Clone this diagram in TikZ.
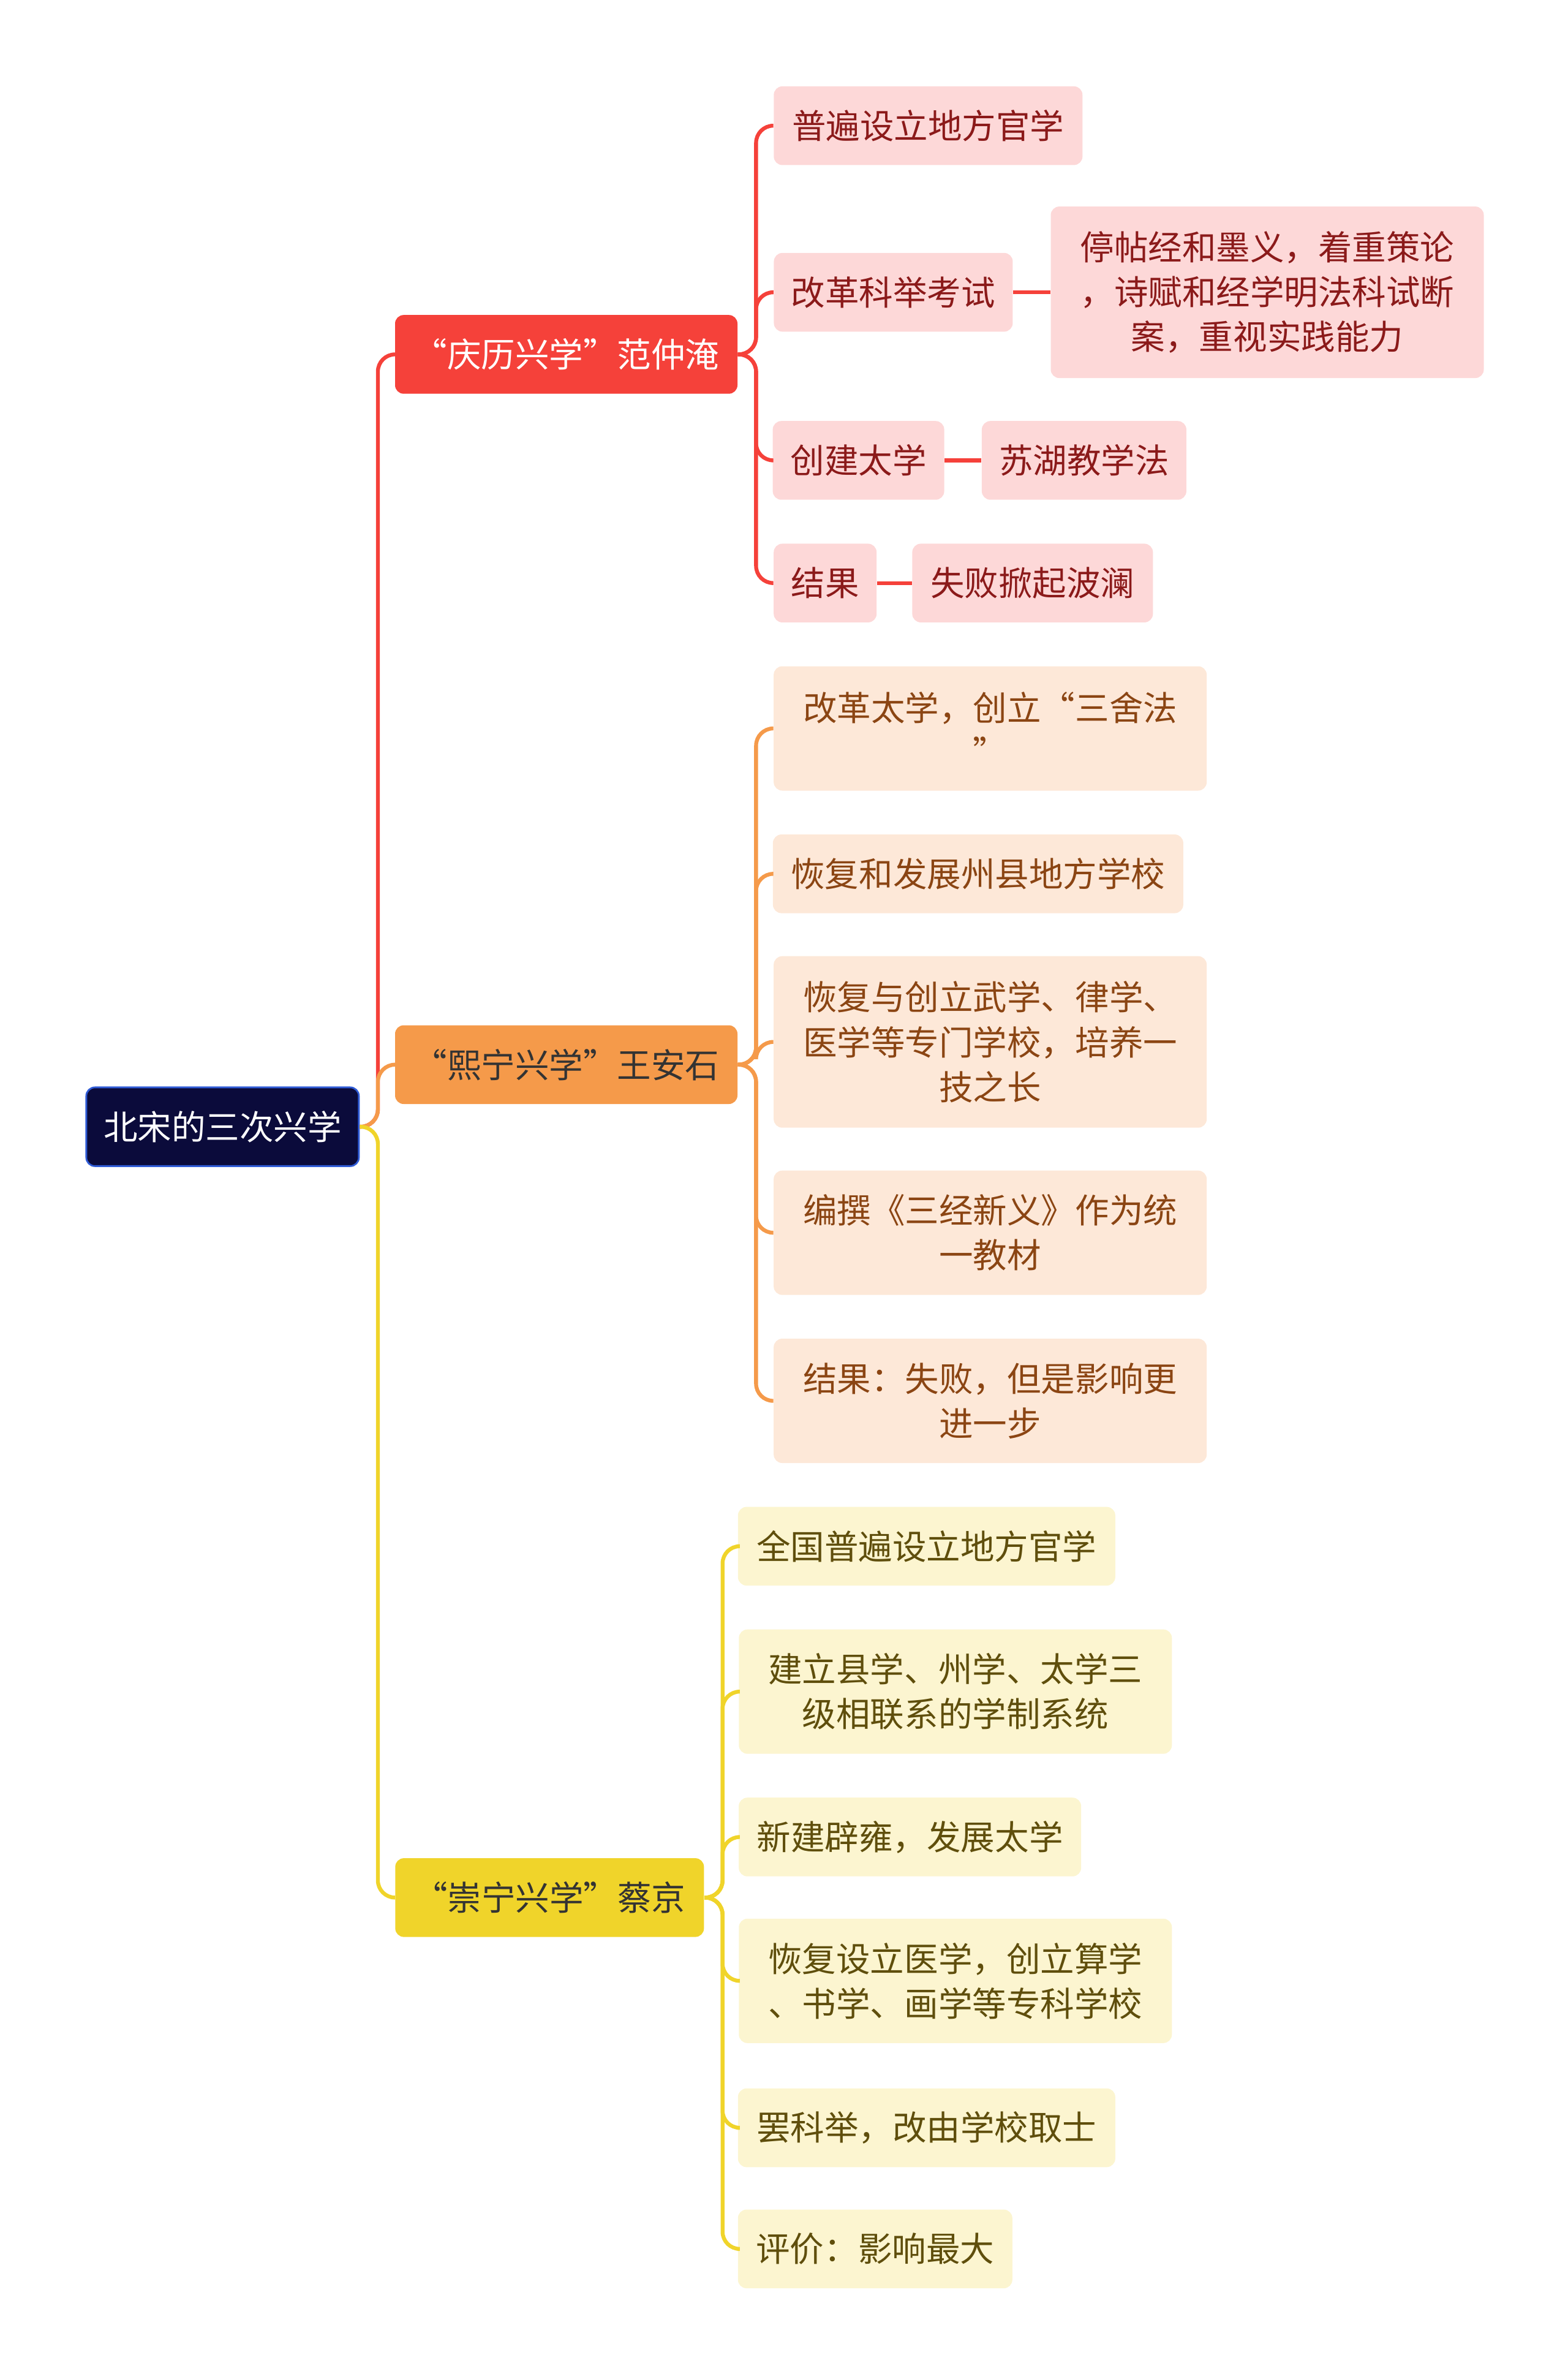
\documentclass[tikz,border=0pt]{standalone}
\usepackage{fontspec}
\setmainfont{Noto Sans CJK SC}
\usetikzlibrary{positioning,calc}
\definecolor{rootfill}{HTML}{0B0B3B}
\definecolor{rootline}{HTML}{2F5BD6}
\definecolor{redmain}{HTML}{F5413A}
\definecolor{orgmain}{HTML}{F59A4A}
\definecolor{yelmain}{HTML}{F0D42A}
\definecolor{redsub}{HTML}{FDD8D8}
\definecolor{orgsub}{HTML}{FDE8D8}
\definecolor{yelsub}{HTML}{FCF5D0}
\definecolor{redtxt}{HTML}{8B1A1A}
\definecolor{orgtxt}{HTML}{8B4513}
\definecolor{yeltxt}{HTML}{5F4E0C}
\begin{document}
\begin{tikzpicture}[x=0.02472cm, y=-0.02472cm,
      box/.style={rectangle, rounded corners=4pt, align=center, inner sep=0pt,
                  minimum height=1.285cm, font=\fontsize{15.8}{20.8}\selectfont},
      root/.style={box, fill=rootfill, draw=rootline, thick, text=white},
      main/.style={box, text=white},
      sub/.style={box},
      rsub/.style={sub, fill=redsub, text=redtxt},
      osub/.style={sub, fill=orgsub, text=orgtxt},
      ysub/.style={sub, fill=yelsub, text=yeltxt},
      link/.style={line width=1.8pt, rounded corners=8pt},
    ]
    \useasboundingbox (0,0) rectangle (1035.6,1567.6);

    % Root and main branches
    \node[root, minimum width=4.45cm] (root) at (147,744) {北宋的三次兴学};
    \node[main, fill=redmain, minimum width=5.59cm] (qingli) at (374,234) {“庆历兴学”范仲淹};
    \node[main, fill=orgmain, text=black!80, minimum width=5.59cm] (xining) at (374,703) {“熙宁兴学”王安石};
    \node[main, fill=yelmain, text=black!80, minimum width=5.04cm] (chongning) at (363,1253) {“崇宁兴学”蔡京};

    % Qingli children
    \node[rsub, minimum width=5.04cm] (q1) at (613,83) {普遍设立地方官学};
    \node[rsub, minimum width=3.9cm] (q2) at (590,193) {改革科举考试};
    \node[rsub, minimum width=7.07cm, minimum height=2.8cm] (q2a) at (837,193) {停帖经和墨义，着重策论\\，诗赋和经学明法科试断\\案，重视实践能力};
    \node[rsub, minimum width=2.8cm] (q3) at (567,304) {创建太学};
    \node[rsub, minimum width=3.34cm] (q3a) at (716,304) {苏湖教学法};
    \node[rsub, minimum width=1.68cm] (q4) at (545,385) {结果};
    \node[rsub, minimum width=3.93cm] (q4a) at (682,385) {失败掀起波澜};

    % Xining children
    \node[osub, minimum width=7.07cm, minimum height=2.03cm] (x1) at (654,481) {改革太学，创立“三舍法\\”};
    \node[osub, minimum width=6.7cm] (x2) at (646,577) {恢复和发展州县地方学校};
    \node[osub, minimum width=7.07cm, minimum height=2.8cm] (x3) at (654,688) {恢复与创立武学、律学、\\医学等专门学校，培养一\\技之长};
    \node[osub, minimum width=7.07cm, minimum height=2.03cm] (x4) at (654,814) {编撰《三经新义》作为统\\一教材};
    \node[osub, minimum width=7.07cm, minimum height=2.03cm] (x5) at (654,925) {结果：失败，但是影响更\\进一步};

    % Chongning children
    \node[ysub, minimum width=6.16cm] (c1) at (612,1021) {全国普遍设立地方官学};
    \node[ysub, minimum width=7.07cm, minimum height=2.03cm] (c2) at (631,1117) {建立县学、州学、太学三\\级相联系的学制系统};
    \node[ysub, minimum width=5.59cm] (c3) at (601,1213) {新建辟雍，发展太学};
    \node[ysub, minimum width=7.07cm, minimum height=2.03cm] (c4) at (631,1308) {恢复设立医学，创立算学\\、书学、画学等专科学校};
    \node[ysub, minimum width=6.16cm] (c5) at (612,1405) {罢科举，改由学校取士};
    \node[ysub, minimum width=4.48cm] (c6) at (578,1485) {评价：影响最大};

    % Root links
    \draw[link, redmain] (root.east) -- ($(root.east)+(12,0)$) |- (qingli.west);
    \draw[link, orgmain] (root.east) -- ($(root.east)+(12,0)$) |- (xining.west);
    \draw[link, yelmain] (root.east) -- ($(root.east)+(12,0)$) |- (chongning.west);

    % Qingli links
    \foreach \c in {q1,q2,q3,q4}
      \draw[link, redmain] (qingli.east) -- ($(qingli.east)+(12,0)$) |- (\c.west);
    \draw[link, redmain] (q2) -- (q2a);
    \draw[link, redmain] (q3) -- (q3a);
    \draw[link, redmain] (q4) -- (q4a);

    % Xining links
    \foreach \c in {x1,x2,x3,x4,x5}
      \draw[link, orgmain] (xining.east) -- ($(xining.east)+(12,0)$) |- (\c.west);

    % Chongning links
    \foreach \c in {c1,c2,c3,c4,c5,c6}
      \draw[link, yelmain] (chongning.east) -- ($(chongning.east)+(12,0)$) |- (\c.west);
\end{tikzpicture}
\end{document}
